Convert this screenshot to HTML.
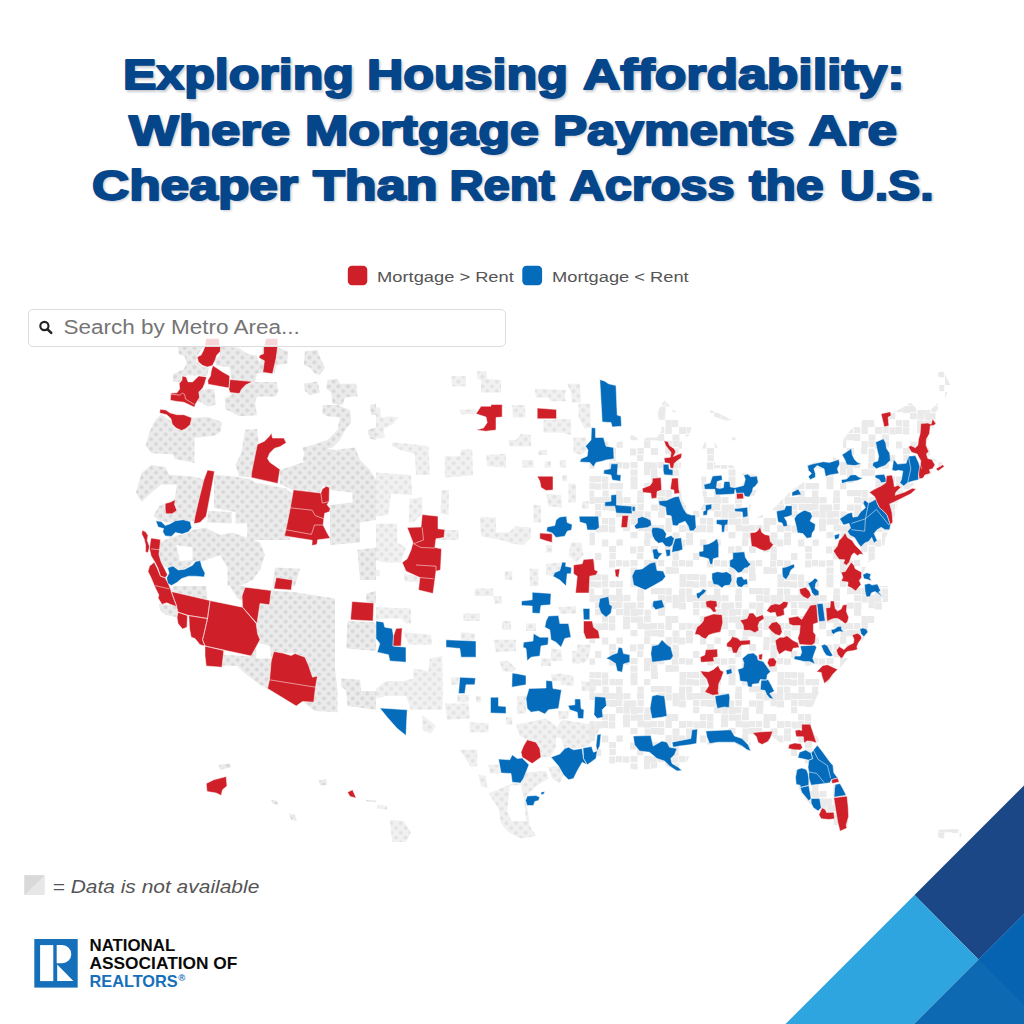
<!DOCTYPE html>
<html lang="en">
<head>
<meta charset="utf-8">
<title>Exploring Housing Affordability</title>
<style>
html,body{margin:0;padding:0;background:#fff;}
body{width:1024px;height:1024px;position:relative;overflow:hidden;font-family:"Liberation Sans",sans-serif;}
.abs{position:absolute;white-space:nowrap;}
.title{position:absolute;left:0;top:0;width:1024px;height:240px;}
.title text{font-family:"Liberation Sans",sans-serif;font-weight:bold;font-size:43.0px;fill:#05468b;stroke:#05468b;stroke-width:2.0px;stroke-linejoin:round;}
.title .sh text{fill:#c9ccd2;stroke:#c9ccd2;}
#map{position:absolute;left:0;top:0;width:1024px;height:1024px;}
.search{position:absolute;left:27.7px;top:309.2px;width:476.5px;height:35.8px;border:1px solid #dcdcdc;border-radius:5px;background:rgba(255,255,255,0.82);box-sizing:content-box;}
.search span{position:absolute;left:34px;top:7px;font-size:19px;color:#555;white-space:nowrap;}
.legend{position:absolute;top:265px;font-size:14.5px;color:#444;white-space:nowrap;}
.sw{position:absolute;width:19px;height:19px;border-radius:4px;}
.na{position:absolute;left:52px;top:876px;font-size:16.5px;font-style:italic;color:#555;white-space:nowrap;}
.ov text{font-family:"Liberation Sans",sans-serif;}
.logo text{font-family:"Liberation Sans",sans-serif;font-weight:bold;font-size:15px;}
</style>
</head>
<body>
<svg id="map" viewBox="0 0 1024 1024">
<defs>
<pattern id="nd" width="9.6" height="9.6" patternUnits="userSpaceOnUse">
<rect width="9.6" height="9.6" fill="#ebebeb"/>
<circle cx="2.4" cy="2.4" r="2" fill="#d7d7d7"/>
<circle cx="7.2" cy="7.2" r="2" fill="#d7d7d7"/>
</pattern>
<pattern id="sp" width="98" height="98" patternUnits="userSpaceOnUse"><path d="M0,0.5h6.3v6.3h-6.3ZM14.5,0.5h6.3v6.3h-6.3ZM28,0.5h6.3v7h-6.3ZM49.5,0.5h6.3v6.3h-6.3ZM63,0h7v6.3h-7ZM70,0h7v6.3h-7ZM77.5,0h6.3v7h-6.3ZM91,0.5h6.3v7h-6.3ZM0.5,7h6.3v7h-6.3ZM7,7h7v6.3h-7ZM14,7h7v6.3h-7ZM21,7h7v6.3h-7ZM28,7.5h7v6.3h-7ZM35.5,7h7v6.3h-7ZM49,7h7v6.3h-7ZM70,7h7v6.3h-7ZM77.5,7.5h6.3v7h-6.3ZM84.5,7h6.3v7h-6.3ZM91,7h6.3v7h-6.3ZM7,14h6.3v6.3h-6.3ZM14.5,14h6.3v6.3h-6.3ZM21,14h7v7h-7ZM28,14h6.3v6.3h-6.3ZM35.5,14.5h7v7h-7ZM42,14.5h6.3v6.3h-6.3ZM49.5,14h6.3v6.3h-6.3ZM63,14.5h7v6.3h-7ZM70.5,14.5h7v7h-7ZM84.5,14h6.3v6.3h-6.3ZM91,14.5h7v7h-7ZM7,21h6.3v6.3h-6.3ZM28,21h7v6.3h-7ZM35.5,21.5h6.3v6.3h-6.3ZM42.5,21h7v7h-7ZM49,21h6.3v6.3h-6.3ZM56.5,21.5h6.3v6.3h-6.3ZM70,21.5h7v6.3h-7ZM14,28h6.3v6.3h-6.3ZM21,28h6.3v7h-6.3ZM35,28.5h7v7h-7ZM42.5,28.5h7v6.3h-7ZM49,28.5h6.3v6.3h-6.3ZM56,28h7v6.3h-7ZM77.5,28h6.3v7h-6.3ZM84,28h6.3v7h-6.3ZM0.5,35h6.3v6.3h-6.3ZM7.5,35.5h6.3v7h-6.3ZM14,35h6.3v7h-6.3ZM21,35.5h6.3v7h-6.3ZM35,35h7v6.3h-7ZM49.5,35h7v6.3h-7ZM56,35.5h7v6.3h-7ZM63,35h6.3v6.3h-6.3ZM70,35h6.3v6.3h-6.3ZM77.5,35h6.3v7h-6.3ZM91,35h7v7h-7ZM0,42.5h7v6.3h-7ZM42.5,42h7v6.3h-7ZM56.5,42.5h6.3v6.3h-6.3ZM63,42h7v6.3h-7ZM70,42h6.3v7h-6.3ZM84.5,42.5h7v6.3h-7ZM0,49h7v6.3h-7ZM14,49.5h6.3v7h-6.3ZM28.5,49.5h6.3v6.3h-6.3ZM56,49h6.3v7h-6.3ZM77.5,49h6.3v7h-6.3ZM84.5,49h6.3v6.3h-6.3ZM91,49.5h6.3v7h-6.3ZM21,56h7v6.3h-7ZM42,56.5h6.3v7h-6.3ZM49.5,56h6.3v6.3h-6.3ZM63,56h7v7h-7ZM77,56h6.3v6.3h-6.3ZM84.5,56.5h6.3v6.3h-6.3ZM7,63h6.3v7h-6.3ZM21.5,63h6.3v6.3h-6.3ZM49,63h6.3v6.3h-6.3ZM84.5,63h6.3v7h-6.3ZM0,70.5h7v6.3h-7ZM21,70.5h6.3v7h-6.3ZM28,70h6.3v6.3h-6.3ZM35,70.5h6.3v6.3h-6.3ZM42.5,70h7v6.3h-7ZM56,70h7v7h-7ZM63,70.5h6.3v6.3h-6.3ZM70,70h6.3v6.3h-6.3ZM84,70.5h6.3v6.3h-6.3ZM91,70h6.3v6.3h-6.3ZM42.5,77.5h7v6.3h-7ZM56,77h6.3v6.3h-6.3ZM63,77h6.3v7h-6.3ZM77.5,77h7v7h-7ZM84,77.5h7v6.3h-7ZM0.5,84h6.3v6.3h-6.3ZM7,84h6.3v6.3h-6.3ZM14,84.5h6.3v6.3h-6.3ZM42.5,84.5h7v7h-7ZM63,84h7v7h-7ZM91.5,84h7v7h-7ZM0,91h7v6.3h-7ZM7,91.5h6.3v6.3h-6.3ZM14,91h6.3v6.3h-6.3ZM21.5,91h6.3v6.3h-6.3ZM28,91h7v6.3h-7ZM42.5,91h7v6.3h-7ZM56,91h6.3v6.3h-6.3ZM91.5,91h6.3v6.3h-6.3Z" fill="#eaeaea"/></pattern>
</defs>
<path d="M305,351.2 317.5,350 320,357.5 325,367.5 320,375 315,373.8 310,367.5 303.8,365ZM303.8,383.8 317.5,381.2 320,392.5 310,395 305,391.2ZM327.5,380 337.5,378.8 340,383.8 356.2,383.8 357.5,396.2 345,397.5 342.5,405 332.5,403.8 331.2,392.5 326.2,388.8ZM322.5,405 337.5,405 350,410 351.2,422.5 345,430 340,440 332.5,447.5 320,450 312.5,455 305,457.5 302.5,447.5 312.5,445 327.5,440 337.5,430 340,417.5 327.5,416.2 322.5,413.8ZM367.5,430 376,427.5 376,440 370,438.8ZM370,405 376,403.8 376,415 371.2,415ZM220,535 232.5,532.5 260,542.5 265,555 260,570 252.5,580 240,586 227.5,586 227.5,567.5 220,555ZM275,567.5 300,568.8 295,586 272.5,586ZM280,470 295,465 310,460 320,462.5 327.5,470 322.5,486.2 320,492.5 292.5,490 280,483.8ZM305,450 320,447.5 335,450 355,447.5 360,460 370,470 376,480 376,520 360,522.5 360,542.5 330,545 330,505 352.5,502.5 352.5,492.5 330,490 328.8,486.2 323.8,486.2 322.5,477.5 310,470 302.5,460ZM357.5,550 376,547.5 376,580 360,580ZM160,542.5 170,537.5 185,533.8 192.5,530 205,527.5 220,535 220,555 202.5,561.2 193.8,561.2 187.5,567.5 180,570 173.8,566.2 167.5,567.5 161.2,565 157.5,555ZM158.8,604 176.2,605.5 178,612.2 177,617.2 165,614.8 160,609.8ZM173.8,586 206.2,586 207.5,599.8 171.2,591.5ZM230,586 245,586 242.5,601 237.5,598.5ZM271.2,590.5 295,592.2 335,598.5 335,668.5 337.5,691 337.5,712.2 315,711 302.5,701.5 313.8,702.2 317.5,676 312.5,677.2 305,657.2 295,653.5 282.5,653 273.8,651.5 270,644.8 260,639.8 257.5,633.5 256.2,623.5 257,623.5 260,603.5 269.5,604.8ZM223.8,654.8 251.2,656.5 260,639.8 270,644.8 273.8,651.5 271.2,661 269.5,679.8 267.5,688.5 260,684.8 245,673.5 237.5,666 223,665.5ZM347.5,621 373.8,622.2 376,623.5 376,651 346.2,648.5ZM341.2,678.5 360,679.8 361.2,691 376,691 376,709.8 347.5,706 346.2,691 341.2,686ZM366.2,593.5 376,591 376,603 373.8,603 366.2,601.5ZM218.8,764.8 230,763.5 231.2,767.2 220,769.8ZM318.8,780.5 326.2,779 327,784.8 320,785.5ZM271.2,799.8 277.5,801 278,804.8 272.5,803.5ZM288.8,813.5 295,814.8 297,821 291.2,819.8ZM366.2,799.8 376,800.5 376,802.2 366.2,801.5ZM177.9,346.8 203.2,346.8 197.4,355.6 196.4,361.5 203.2,367.3 209.1,367.3 207.1,376.1 188.6,375.2 182.7,376.1 179.8,382 173,382 173,374.2 183.7,369.3 186.6,363.4 184.7,356.6 178.8,353.7ZM220.8,346.8 238.4,347.8 247.2,353.7 257,355.6 259.9,363.4 262.8,347.8 278.4,347.8 288.2,351.7 287.2,363.4 276.5,365.4 274.5,373.2 262.8,373.2 257,373.2 255,382 276.5,382 278.4,390.8 275.5,396.6 266.7,396.6 257,396.6 255,402.5 257,415.2 239.4,416.2 225.7,409.3 224.7,398.6 231.6,394.7 229.6,391.2 231.6,379.1 229.6,367.3 215.9,365.4 215,359.5 219.8,355.6ZM198.4,389.8 214,388.8 215.9,404.5 208.1,406.4 197.4,400.5ZM155.4,420.1 161.2,414.2 172,422 177.9,429.8 184.7,428.9 190.5,418.1 208.1,417.1 221.8,422 220.8,431.8 214,435.7 194.5,437.7 194.5,463 174.9,459.1 173,454.3 151.5,453.3 145.6,445.5 149.5,431.8ZM245.2,429.8 257,428.9 258.9,445.5 255,465 251.1,476.7 239.4,476.7 235.5,465 241.3,453.3ZM141.7,472.8 151.5,465 165.2,467 169.1,474.8 194.5,476.7 204.2,479.6 203.2,488.4 198.4,509.9 194.5,521.6 186.6,520.7 180.8,519.7 169.1,522.6 159.3,520.7 153.4,515.8 159.3,506 169.1,502.1 174.9,498.2 176.9,484.5 161.2,484.5 149.5,494.3 141.7,502.1 135.9,492.3ZM214,474.8 235.5,476.7 251.1,479.6 255,482.6 286.2,488.4 292.1,494.3 290.2,540 247.2,540 247.2,523.6 235.5,523.6 235.5,511.9 214,508ZM208.1,510.9 231.6,511.9 231.6,523.6 207.1,522.6Z" fill="url(#nd)"/>
<path d="M451,376.2 466,376.2 466,386.2 452.2,386.2ZM477.2,371.2 486,371.2 487.2,378.8 501,380 501,392.5 481,392.5 481,380 477.2,378.8ZM534.8,388.8 566,390 564.8,397.5 566,401.2 551,401.2 548.5,397.5 536,397.5ZM567.2,383.8 579.8,383.8 581,402.5 572.2,402.5 571,392.5ZM578.5,403.8 589.8,403.8 591,427.5 584.8,428.8 578.5,417.5ZM512.2,405 524.8,405 525.5,417.5 513,417.5ZM459.8,409.5 476,409.5 476,413.8 461,414.5ZM543.5,420 571,418.8 571,435 561,432.5 543.5,432.5ZM508.5,440 516,440 521,433.8 531,435 531,446.2 509.8,446.2ZM573.5,437.5 586,437.5 587.2,450 581,455 573.5,452.5ZM538.5,450 547.2,450 547.2,455 538.5,455ZM522.2,460 533.5,460 533.5,467.5 522.2,467.5ZM544.8,461.2 551,461.2 551,467.5 544.8,467.5ZM559.8,460 566,460 566,467.5 559.8,467.5ZM486,455 506,453.8 506,467.5 487.2,466.2ZM444.8,456.2 459.8,456.2 461,449.5 472.2,449.5 473,475 463.5,476.2 444.8,477.5ZM392.2,442.5 408.5,443.8 428.5,446.2 429.8,475 416,475 414.8,453.8 401,450 392.2,446.2ZM376,407.5 379.8,407.5 381,417.5 391,416.2 398.5,417.5 393.5,423.8 383.5,428.8 384.8,437.5 376,438.8ZM376,472.5 411,475 412.2,495 391,493.8 388.5,515 376,516.2ZM409.8,498.8 422.2,497.5 422.2,513.8 413.5,522.5 408.5,522.5ZM441.5,490 449,490 448.5,515 440.5,513.8ZM376,523.8 397.2,523.8 397.2,542.5 406,547.5 401,562.5 383.5,562.5 376,560ZM437.2,530 458.5,530 458.5,540 437.2,540ZM479.8,517 496,517.5 496,532.5 508.5,532.5 516,526.2 531,527.5 531,537.5 523.5,545 512.2,543.8 501,540 481,536.2ZM533.5,505 541,505 541,522.5 533.5,522.5ZM546,493.8 561,495 562.2,507.5 548.5,506.2ZM568.5,483.8 576,483.8 576,502.5 568.5,502.5ZM562.2,475 567.2,475 567.2,481.2 562.2,481.2ZM582.2,501.2 588.5,501.2 588.5,508.8 582.2,508.8ZM571,542.5 581,542.5 583.5,555 576,562.5 568.5,555ZM546,545 552.2,545 552.2,552.5 546,552.5ZM546,563.8 561,562.5 559.8,570 553.5,576.2 546,575ZM504.8,571.2 512.2,571.2 512.2,580 504.8,580ZM529.8,568.8 538.5,568.8 538.5,586 529.8,586ZM403.5,573.8 418.5,576.2 418.5,582.5 404.8,581.2ZM376,570 379.8,570 379.8,576.2 376,576.2ZM474.8,588.5 493.5,588.5 493.5,596 474.8,596ZM493.5,596 501,596 502.2,603.5 494.8,603.5ZM463.5,613.5 479.8,613.5 479.8,621 463.5,621ZM376,607.2 411,608.5 411,623.5 406,623.5 401,618.5 386,618.5 376,619.8ZM403.5,632.2 431,634.8 432.2,644.8 408.5,644.8ZM502.2,621 511,621 511,629.8 502.2,629.8ZM526,623.5 536,623.5 536,631 526,631ZM461,632.2 474.8,633.5 474.8,639.8 461,639.8ZM493.5,639.8 516,639.8 516,651 496,652.2ZM413.5,668.5 428.5,671 429.8,658.5 442.2,656 443,693.5 442.2,709.8 411,709.8 406,696 386,696 376,698.5 376,688.5 386,681 403.5,681 413.5,678.5ZM499.8,661 508.5,661 516,668.5 512.2,672.2 502.2,671ZM451,677.2 458.5,677.2 458.5,684.8 451,684.8ZM457.2,694.8 468.5,694.8 468.5,702.2 457.2,702.2ZM476,696 481,696 481,702.2 476,702.2ZM444.8,703.5 468.5,703.5 469.8,718.5 447.2,719.8ZM422.2,714.8 436,726 431,733.5 422.2,729.8ZM469.8,722.2 488.5,723.5 488.5,732.2 469.8,732.2ZM506,717.2 512.2,717.2 512.2,724.8 506,724.8ZM517.2,696 526,696 526,713.5 517.2,713.5ZM559.8,673.5 573.5,676 573.5,686 561,684.8ZM577.2,644.8 591,644.8 588.5,658.5 583.5,663.5 576,661ZM551,648.5 561,649.8 562.2,661 551,661ZM541,658.5 551,658.5 551,666 541,666ZM551,674.8 561,673.5 562.2,681 552.2,681ZM581,681 596,682.2 596,691 582.2,691ZM558.5,711 568.5,711 568.5,718.5 558.5,719.8ZM562.2,719.8 601,726 596,736 588.5,746 573.5,748.5 564.8,748.5 561,738.5 551,736ZM516,724.8 546,718.5 556,726 556,746 551,757.2 541,757.2 539.8,748.5 536,742.2 527.2,739.8 519.8,736ZM459.8,749.8 477.2,749.8 477.2,766 471,767.2ZM488.5,764.8 498.5,764.8 499.8,773.5 489.8,773.5ZM478.5,774.8 486,776 487.2,788.5 481,786ZM488.5,793.5 512.2,783.5 520.5,783 526,772.2 546,771 548.5,778.5 536,786 526,796 525.5,800.5 527.2,805.5 529.8,826 536,836 521,838.5 508.5,832.2 501,823.5 498.5,808.5ZM548.5,767.2 558.5,766 563.5,774.8 559.8,783.5 552.2,778.5ZM558.5,607.2 576,606 576,613.5 559.8,614ZM572.2,651 579.8,651 579.8,663.5 572.2,663.5ZM389.8,819.8 403.5,821 411,832.2 406,842 392.2,842 391,831ZM377.2,804.8 387.2,806 387.2,809.8 377.2,808.5Z" fill="url(#nd)" fill-opacity="0.72"/>
<path d="M589.5,450 602,440 617,442.5 632,435 642,440 647,437.5 657,437.5 662,430 657,412.5 664.5,400 673.2,410 682,415 692,425 689.5,435 682,440 682,455 679.5,480 682,500 689.5,510 699.5,510 704.5,502.5 702,490 700.8,470 699.5,455 704.5,442.5 714.5,442.5 719.5,450 714.5,465 732,465 739.5,472.5 757,475 759.5,485 752,500 749.5,510 752,520 772,510 792,490 807,480 807,465 822,460 832,457.5 832,586 589.5,586ZM709.5,410 717,412.5 724.5,416.2 732,420 727,421.2 717,417.5 710.8,415ZM732,437.5 738.2,437.5 738.2,442.5 732,442.5ZM832,456.2 839.2,460 843,450 843,440 850.5,430 863,420 880.5,415 893,412.5 903,407.5 910.5,402.5 918,410 930.5,410 940.5,400 938,372.5 943,371.2 950.5,385 943,402.5 935.5,412.5 935.5,423.8 928,435 930.5,457.5 943,462.5 938,470 918,480 908,490 898,501.2 893,522.5 885.5,537.5 883,555 868,562.5 863,573.8 861.8,586 832,586ZM589.5,586 888,586 888,601 879.5,613.5 867,633.5 857,648.5 839.5,668.5 829.5,681 817,696 810.8,711 812,726 822,746 832,766 847,796 848.2,826 839.5,832.2 829.5,821 818.2,811 807,801 797,786 794.5,761 787,748.5 772,736 752,733.5 749.5,751 732,742.2 707,744.8 694.5,746 682,771 664.5,766 642,771 617,766 594.5,758.5 589.5,736ZM933,829.8 961.8,829 961,837.2 943,838.5 933.5,836Z" fill="url(#sp)"/>
<path d="M176.2,545 192.5,547.5 192.5,560 180,561.2ZM256.2,642.2 270,646 271.2,658.5 256.2,658.5ZM509.8,786 521,784.8 524,798.5 526,821 511,821 507.2,811Z" fill="#fff"/>
<path d="M599.8,379.5 604.8,381.2 608.5,383.8 616,385.5 617.2,415 621,416.2 621.5,426.2 612.2,427 611,422.5 602.2,422ZM591.5,427.5 595.5,428 595.5,437.5 603.5,437.5 606,446.2 613.5,447.5 614,458.8 606,460 602.2,461.2 596,462.5 593.5,467 589.8,462.5 579.8,462 581,458.8 587.2,456.2 588,450 585.5,446.2 591,440ZM611,463.8 618,463.8 617.2,474.5 621,475 620.5,481.2 612.2,480 611,475 603.5,473.8 604,470 610.5,468.8ZM611,495 616.5,494.5 616.5,505 632,506.2 632,513.8 616,513 614.8,506.2 604.8,506.2 604.8,502 611,501.2ZM559.8,517 566.5,516.2 567.2,522.5 572.2,524.5 571.5,530 567.2,531.2 564.8,536.2 556,537.5 552.2,533 546.5,531.2 547.2,527 554.8,525.5 556,520ZM579,516.2 598.5,516.2 599.2,527.5 596,530 587.2,530 586,523.8 579.8,522ZM562.2,562 566,562.5 565.5,566.2 571.5,567.5 571,573.8 567.2,573.8 566,586 559.8,580 553,576.2 554.8,572.5 559.8,570.5ZM376,621 383.5,622.2 384.8,627.2 392.2,628.5 393.5,636 393,646 406,647.2 406,662.2 389.8,661 388.5,654.8 377.2,652.2 379.8,643.5 376,638.5ZM446,639.8 476,641 476,657.2 461,657.2 459.8,648.5 446,647.2ZM459.8,677.2 475.5,678 474.8,684.8 466,684.8 464.8,693.5 458.5,693.5ZM490.5,697.2 498.5,697.2 498.5,706 506,706.5 506,713.5 490.5,713ZM379.8,708 407.2,709.8 406,735.5 397.2,728.5 387.2,717.2ZM532.2,592.2 551,593.5 550.5,604.8 541,605.5 539.8,613.5 532.2,613 532.2,606 521.5,605.5 521.5,601 532.2,599.8ZM548.5,616 558.5,615.5 559.8,623.5 568.5,623.5 571,637.2 564.8,638.5 561,647.2 556,642.2 551,639.8 549.8,629.8 544.8,627.2 546,621ZM533.5,633.5 539.8,637.2 548.5,637.2 548,644.8 541,646 539.8,656 531,657.2 527.2,661 526,648.5 523,647.2 523.5,642.2 533,641ZM512.2,673 518.5,674 526,675.5 526,684.8 518.5,686 511.8,687.2ZM529,688.5 546,688 546,680.5 552.2,681 553,688.5 561.5,689.8 558.5,708.5 548.5,709.8 544.8,714 538.5,711 531,712.2 527.2,708.5 526,698.5ZM574.8,699 580.5,699 581,708.5 584,709.8 583.5,718.5 578,718.5 577.2,712.2 569.8,709.8 568,705.5 574.8,704.8ZM594.8,696.5 605.5,697.2 606.5,705.5 602.2,709.8 603,717.2 597.2,718.5 594,714.8ZM599.8,598.5 608.5,596.5 609.8,604.8 612.2,606 611,613 606,617.2 601,613 598.5,606ZM583,608.5 589.8,608.5 589.8,619.8 583.5,619.8ZM612.2,654.8 617.2,653 618.5,647.2 622.2,648 623.5,653.5 629.8,654.8 629.8,662.2 623.5,664 622.2,672.2 617.2,671 615.5,663.5 609.8,659.8 606,658.5ZM498.5,759 509.8,759.8 512.2,754.8 517.2,758.5 522.2,758 529,764.8 526,772.2 523.5,778.5 520.5,783 512.2,782.2 511,773.5 501,773ZM551,757.2 559.8,754 564.8,748.5 568.5,747.2 573.5,749.8 582.2,748.5 583.5,758.5 587.2,764.8 582.2,762.2 577.2,771 573.5,778.5 568.5,779.8 563.5,774.8 558.5,766ZM583,748 591.5,746.5 593.5,752.2 597.2,751 596,758.5 589.8,763 587.2,764.8 583.5,758.5ZM597.2,734.8 601,734 599.8,746 597.2,751 596,746ZM527.2,796 536,795.5 539.8,797.2 538.5,800.5 534.8,801.5 533.5,805.5 527.2,805.5 525.5,800.5ZM541,792.2 544.8,791.5 544,794 541,794.8ZM653.2,601 662,599.8 664.5,607.2 655.8,609.8 652.5,606ZM652,646 658.2,644.8 662,639.8 667,644.8 670.8,647.2 673.2,656 670.8,659.8 662,661 652,662.2 650.8,653.5ZM652,696 657,694.8 664.5,696 667,716 662,717.2 652,718.5 650,708.5ZM633.2,736 650.8,735.5 653.2,746 662,741 667,742.2 669.5,747.2 677,748.5 674.5,754.8 670.8,758.5 672,763.5 678.2,767.2 682,770.5 677,771 669.5,766 664.5,761 657,758.5 649.5,752.2 639.5,751 634.5,744.8ZM672,742.2 690.8,738.5 692,729.8 697.5,729 696.5,743.5 689.5,744.8 679.5,746 673.2,747.2ZM705.8,731 730.8,729.8 734.5,736 742,738.5 748.2,744.8 750.8,751 747,749.8 742,746 734.5,742.2 718.2,742.2 709.5,743.5 707,737.2ZM155.8,520.8 161.2,521.6 165.2,525.5 169.8,523.9 175.3,520.8 183.1,519.7 190.2,521.6 191.7,527.8 188.6,531.7 182.3,534.1 175.3,532.5 171.4,536.4 165.2,535.9 162.8,531.7 163.6,528.6 158.1,527ZM167.5,567.7 173,566.1 178.4,570 184.7,569.2 192.5,565.3 195.6,561.4 200.3,560.6 201.9,566.9 205,573.1 204.2,577 195.6,576.2 188.6,576.2 181.6,578.6 176.9,582.5 171.4,585.6 167.5,583.3 166.7,577.8 169.1,573.1ZM663.2,464.3 668.7,464.3 669.2,469 672.9,469.8 672.9,475.2 664,474.8 663.2,470.5ZM658.6,501 667.2,500.2 668.7,499.4 674.2,497.1 678.9,496.3 680.4,501 683.6,508.8 686.7,513.5 691.4,515.1 695.3,515.1 696.1,527.6 693.7,530.7 689.8,531 688.2,526 685.1,521.3 678.9,523.7 677.3,526 672.6,525.2 671.8,519.8 671.1,515.8 666.4,515.1 665.6,507.2 659.3,504.9ZM632,506.5 635.1,506.5 635.1,511.2 632,511.2ZM637.5,518.2 642.2,516.6 646.8,518.2 650.8,520.5 651.5,525.2 647.6,527.6 641.4,528.3 635.9,529.1 634.3,526 637.5,522.9ZM652.3,527.6 657.8,527.6 663.2,529.1 666.4,533.8 665.6,537.7 671.1,535.4 674.2,538.5 672.6,544.8 669.5,547.1 665.6,546.3 662.5,542.4 658.6,543.2 654.7,540.1 652.3,535.4 651.5,530.7ZM675,538.5 681.2,537.7 682.8,549.4 678.9,551 674.2,551.8 671.8,552.6 672.6,546.3ZM665.6,549.4 670.3,549.4 670.3,555.7 666.4,556.5ZM652.3,549.4 657,548.7 658.6,552.6 662.5,553.3 659.3,556.5 657.8,559.6 653.9,558.8ZM632,576 633.6,585.1 645.3,590.1 652.9,586 662.5,580.5 665.6,576.6 663.2,571 657,570.5 655.4,561.9 650,563.3 642,569 635,569.8ZM703.9,484.6 710.1,483 712.5,476 721.8,475.2 722.3,479.9 717.2,481.5 716.4,487.7 719.5,488.5 723.4,487.7 724.2,481.5 729.7,481.5 730.4,486.9 735.1,487.7 743.7,485.4 745.3,479.1 743.7,475.2 747.6,474.1 750.8,476.8 757,476 758.2,482.2 755.4,486.2 753.1,487.7 752.3,491.6 749.2,497.1 744.5,496.3 743.7,493.2 736.4,493.5 735.1,489.3 734.3,494 721.1,494.8 715.6,494.8 714.8,489.3 704.7,489.3ZM705.4,504.9 711.7,504.1 711.7,508.8 707.8,510.4 707,515.1 703.1,515.4 703.1,511.2 705.4,510.4ZM734.3,508.8 747.6,507.2 747.9,516.6 742.9,517.4 742.2,511.9 735.1,511.6ZM716.4,519.8 728.1,519.4 727.6,524.4 725,525.2 724.2,532.2 721.8,532.2 721.4,525.2 716.4,524.1ZM703.1,544.8 708.6,544 713.2,541.6 717.2,538.5 718.7,544.8 718.7,557.2 713.2,558.8 712.5,564.3 710.1,564.3 708.6,558.8 703.1,557.2 699.2,556.5 698.9,551.8 703.1,551ZM732.8,552.6 744.5,551.8 745.3,557.2 748.4,561.9 750.8,564.3 747.6,567.4 744.5,568.2 741.4,572.1 738.2,572.9 734.3,569 729.7,566.6 729.7,560.4 732.8,558.8ZM776.5,511.2 784.3,509.6 785.9,505.7 792,505.7 792,515.1 788.2,516.6 784.3,517.4 786.7,521.3 787.5,526 783.6,526.8 782,522.9 778.1,522.1 777.3,518.2ZM807.6,465.6 812.3,464.1 823.2,461.7 829.5,462.5 838.9,459.4 839.7,464.1 837.3,468.8 838.9,473.4 834.2,474.2 829.5,475 825.6,476.6 824,468.8 817,465.6 813.9,468.8 815.4,473.4 815.4,477.3 810,479.7 808.4,476.6 811.5,473.4 808.4,470.3ZM842,454.7 845.9,452.3 851.4,448.4 852.2,454.7 854.5,459.4 857.6,462.5 861.5,464.1 854.5,465.6 846.7,464.8 845.1,460.2ZM841.2,479.7 846.7,478.9 850.6,475 855.3,474.7 859.2,477.3 863.1,478.1 857.6,480.5 846.7,482 842,483.6ZM875.6,442.2 883.4,438.8 885.8,443 886.5,448.4 889.7,453.1 890.4,460.2 885,465.6 880.3,467.2 876.4,468.8 872.5,465.6 873.2,462.5 877.9,460.9 878.7,456.2 877.2,450ZM893.6,459.4 895.9,461.7 897.5,464.1 906.1,463.3 908.4,456.2 915.4,455.5 918.6,462.5 920.1,467.2 918.6,474.2 918.6,479.7 912.3,481.2 907.6,482.8 903.7,485.9 899.8,482.8 901.4,479.7 902.9,471.1 898.2,470.3 895.9,471.1 892,470.3ZM875.6,475 884.2,474.2 885.8,478.1 886.5,482 881.1,482.8 879.5,479.7 874.8,477.3ZM792,492.2 798.2,489.1 801.4,494.5 792,496.1ZM796.7,514.8 801.4,511.7 804.5,510.2 810.8,512.5 812.3,516.4 810,521.1 815.4,524.2 814.7,529.7 812.3,532.8 811.5,537.5 806.8,538.3 802.9,533.6 797.5,532.8 795.9,525 794.3,518.8ZM839.7,518.8 848.2,513.3 852.2,512.5 852.9,517.2 857.6,516.4 860.8,511.7 865.4,507.8 863.1,503.1 864.7,500 868.6,503.1 871.7,501.6 877.2,498.4 877.2,503.1 879.5,507.8 884.2,511.7 887.3,515.6 890.4,525 889.7,529.7 885,529.7 881.1,527.3 877.2,529.7 874,533.6 877.2,540.6 874,543 871.7,537.5 868.6,541.4 864.7,543 860.8,546.9 858.4,543.8 854.5,537.5 849.8,535.2 847.5,531.2 850.6,528.1 849,523.4 843.6,525ZM834.2,535.2 839.7,533.6 838.9,538.3 835,539.8ZM711.9,573.3 717.3,571.7 722.8,572.5 726.7,571.7 731.4,574.8 731.9,580.3 729.8,585 724.4,585.8 722,588.1 718.1,585 713.4,584.2 711.9,578.8ZM736.9,577.2 741.6,576.4 743.9,579.5 747,578.8 747.8,584.2 743.9,585 741.6,587.3 737.7,586.6 736.1,581.9ZM696.2,593.6 700.2,592 703.3,588.9 706.4,590.5 704.1,593.6 700.9,595.9 698.6,599.1 697,597.5ZM782.2,567.8 786.1,567 790,565.5 793.9,563.9 794.7,567 790.8,570.2 789.2,574.8 786.1,579.5 783,577.2 782.2,573.3ZM808,583.4 811.9,581.1 815,578 818.1,580.3 815.8,583.4 815,588.1 818.9,591.2 818.9,595.2 815,595.9 811.9,592.8 810.3,588.1ZM816.9,603.8 822.8,603.4 825.2,620.9 818.9,621.7ZM800.2,645.9 815,645.2 816.6,647.5 814.2,653.8 812.7,658.4 815,663.9 809.5,661.6 804.1,661.6 797.8,660 793.9,659.2 794.7,656.1 800.2,656.1 801.7,652.2ZM742.3,658.4 747.8,653.8 753.3,653 757.2,656.1 758,660 763.4,661.6 766.6,666.2 770.5,671.7 767.3,674.8 766.6,680.3 760.3,679.5 758.8,683.4 752.5,684.2 751.7,687.3 747.8,686.6 747,681.9 740,681.1 739.2,674.8 737.7,669.4 743.1,667.8 743.9,663.1ZM761.1,680.3 768.1,679.5 771.2,685 774.4,691.2 769.7,693.6 773.6,699.1 769.7,698.3 766.6,694.4 765,690.5 760.3,689.7ZM725.9,670.2 731.4,668.6 732.2,673.3 726.7,674.8ZM715,695.9 729.1,693.6 729.8,697.5 729.1,707.7 724.4,706.9 717.3,708.4 715.8,702.2ZM799.4,752.3 805.6,750 811.1,753.1 812.7,758.6 808.8,760.2 804.1,759.1 797.8,757.8ZM813.4,750 817.3,745.3 821.2,750 825.2,755.5 829.1,760.9 833,765.6 833.8,772.7 837.7,778.1 831.4,779.7 829.8,782.8 824.4,783.6 811.1,785.2 808.8,778.1 808.8,771.9 808,767.2 808.8,760.2 812.7,758.6 811.1,753.1ZM797,769.5 801.7,768 806.4,769.5 808,773.4 808.8,778.1 808.8,785.2 800.2,787.5 800.2,785.2 796.2,784.4 795.5,777.3ZM800.2,787.5 808.8,785.6 810.3,793.8 811.1,798.4 808.8,800.8 805.6,796.9 801.7,792.2ZM811.1,798.4 819.7,798.4 821.2,807.8 818.1,810.9 813.4,807.8 811.1,803.1ZM835.3,784.4 840,783.6 843.1,789.1 846.2,795.3 834.1,797.2 834.5,789.1ZM862.8,574.6 866.9,572.8 871,574 869.8,577.5 871.6,581 866.9,579.3 863.9,578.7ZM864.5,584.5 869.2,583.4 872.1,585.1 877.4,583.9 880.4,590.4 878.6,592.1 883.9,598 878.6,593.9 875.1,591.6 871.6,592.7 869.8,596.8 866.3,596.8 865.1,591.6ZM831.1,629.6 834.6,629.1 837.6,626.7 841.1,626.1 841.7,629.6 844,632 839.3,631.4 835.8,632.6 833.5,634.3 831.7,632.6ZM859.8,629.1 862.8,627.9 866.3,629.1 868,632 863.9,636.7 861,633.8ZM821.2,645.5 824.7,644.3 827.6,646.1 830,650.7 832.9,655.4 830.5,656.6 826.4,655.4 823.5,651.3Z" fill="#056cbc" stroke="#fff" stroke-width="0.5" stroke-linejoin="round"/>
<path d="M207.5,470 214.5,471.2 213,480 208.8,502.5 206.2,516.2 200,522.5 193.8,523.8 195,516.2 200,495 203.8,480ZM276.2,577.5 292.5,580 291.2,590 273.8,588.8ZM481,406.2 491,406.2 491,404.5 502.2,404.5 502.2,417 496,417.5 496,430 486,431.2 476,430 483.5,428 487.2,422.5 486,417 476,413.8ZM537.2,408 556.5,409.5 556.5,418.8 537.2,418.8ZM537.2,476.2 553,476.2 553,490 546,490.5 541,487.5 539.8,481.2ZM422.2,514.5 438,516.2 438,528.8 444.8,529.5 444,537.5 436,538.8 434.8,547.5 441.5,548.8 440.5,570 436,571.2 433,593.5 418.5,590 419.8,577.5 406,571.2 402.2,562.5 407.2,558.8 411,550 413,542.5 407.2,527.5 421,527ZM539.8,533 552.2,533.8 552.2,542.5 547.2,541.2 539.8,538.8ZM573.5,565 582.2,563.8 583.5,559.5 593.5,558.8 594.8,570 598,571.2 596,575 589.8,576.2 589,593 575.5,593 577.2,576.2 573.5,573.8ZM622.2,515.5 628.5,515.5 627.2,527.5 621,527.5ZM614.8,569.5 619.8,568.8 618.5,577.5 615.5,576.2ZM171.2,591.5 210,600.5 207.5,618.5 188.8,615.5 178,612.2 176.2,604.8 173.8,598.5ZM178,612.2 187.5,615.5 187,627.2 182.5,629 178,623.5 177,617.2ZM188.8,615.5 207.5,618.5 203.8,634.8 202.5,639.8 205,646 200,644.8 195,638.5 191.2,637.2 189.5,628.5ZM212,601 242.5,607.2 256.2,623.5 257.5,633.5 260,639.8 251.2,656 205,646 202.5,639.8 203.8,634.8 207.5,618.5 210,600.5ZM205,646 223.8,650.5 222,667.2 206.2,666 205,656ZM245,587.2 271.2,590.5 269.5,604.8 260,603.5 257,623.5 242.5,607.2 242,596ZM273.8,651.5 282.5,653 291.2,655.5 295,653.5 305,657.2 308.8,666 312.5,677.2 317.5,676 315.5,687.2 313.8,702.2 302.5,701.5 296.2,706 267.5,688.5 269.5,679.8 271.2,661ZM352,601.5 373.8,603 373,621 350.5,619.8ZM206.2,783.5 213.8,779.8 226.2,776.5 227,786 222.5,789.8 221.2,795.5 216.2,793 207,791.5ZM347.5,792.2 352.5,789.8 356.2,798 350,796.5ZM396,628.5 402.2,628 401,646 393,646 393.5,636ZM583.5,621 592.2,621 593.5,627.2 598.5,631 599.8,638.5 586,639 583.5,632.2ZM527.2,739.8 536,742.2 539.8,748.5 541,757.2 532.2,763.5 522.2,757.2 521,752.2 523.5,746ZM142.2,530.2 145.6,531.7 148,535.6 147.2,540.3 149.5,546.6 148,552.8 145.6,552 145.6,545 144.1,538.8 141.7,534.1ZM151.1,538 160.5,539.5 159.7,548.1 158.9,554.4 161.2,562.2 165.2,570 167.5,574.7 165.2,577.8 160.5,576.2 158.1,568.4 155,562.2 151.1,555.9 149.5,548.9 150.3,541.9ZM149.5,566.1 154.2,562.2 157.3,568.4 160.5,576.2 165.2,577.8 169.1,585.6 170.9,590.3 175.3,602.8 176.9,606.7 170.6,604.4 166.7,602.8 162,604.4 158.1,598.1 158.9,595 155,587.2 151.1,577.8 148,571.6ZM165.2,503.6 170.6,502 175.3,499.7 174.5,504.4 176.9,510.6 172.2,513.8 165.9,513.8 165.2,509.1ZM664,440.8 667.9,441.6 669.5,445.5 674.2,448.7 675.8,451.8 673.4,456.5 678.9,454.1 682,453.3 681.2,458 676.5,461.2 674.2,463.5 673.4,468.2 670.3,468.2 669.5,463.5 664.8,462.7 664,458 670.3,457.2 671.1,452.6 668.7,449.4 665.6,445.5ZM652.3,478.3 660.9,477.6 661.7,490.1 657,491.6 656.7,497.9 651.5,498.7 650.8,493.2 642.9,492.4 642.2,488.5 646.1,486.9 650,485.4 652.3,482.2ZM671.8,478.3 678.1,477.9 678.9,489.3 679.7,493.2 674.2,494 673.9,490.1 670.3,489.3 671.1,483.8ZM736.4,493.5 743.2,493.2 743.7,498.7 736.7,499.1ZM760.1,526.8 761.7,532.2 764.8,534.6 769.5,535.4 770.3,541.6 773.4,544.8 769.5,549.4 764.8,551 760.1,549.4 755.4,547.1 751.5,546.3 750.8,540.1 750,533 755.4,532.2 757.8,530.7ZM881.1,413.8 890.4,411.7 891.2,415.6 888.1,417.2 888.9,425.8 884.2,426.9 882.6,420.3ZM920.9,423.4 927.9,423.1 931.1,424.2 932.6,418.8 935.8,423.4 934.2,425.3 930.3,425.8 929.5,433.6 926.4,439.1 926.1,445.3 928.7,451.6 926.4,453.9 927.9,458.6 931.8,459.4 935,464.8 932.6,468.8 929.5,469.5 930.3,473.4 924.8,475 923.2,478.1 919.3,478.9 918.6,474.2 919.3,468.8 920.1,465.6 920.9,460.9 917,453.9 911.5,452.3 908.4,446.9 910.8,445.6 915.4,447.7 917.8,445.3 918.6,439.1 920.1,433.6ZM935.8,468.8 942.8,464.8 944.3,466.4 938.1,471.1ZM886.5,475.8 892,475 893.6,481.2 894.3,486.7 898.2,485.2 900.6,487.5 895.9,492.2 895.1,495.3 904.5,492.2 912.3,488.3 916.2,489.1 910.8,493.8 901.4,498.4 893.6,502.3 889.7,503.9 892,512.5 892.8,521.9 890.4,525 887.3,515.6 884.2,511.7 879.5,507.8 877.2,503.1 874.8,496.9 869.3,492.2 874.8,489.1 881.1,485.9 885.8,482.8ZM845.1,532.8 847.5,537.5 852.2,540.6 855.3,545.3 860.8,550.8 863.4,554.5 859.8,554.1 857.5,555.8 854,552.8 851.7,555.2 849.3,562.3 846.4,565.2 843.4,563.4 844.7,559.8 839.3,559.4 836.4,555.8 833.4,551.1 837.3,546.1 838.9,540.6 842,537.5ZM705.6,601.4 710.3,600.3 716.6,600.9 717.3,606.1 715,607.7 716.6,611.6 713.4,612.3 710.3,608.4 706.4,606.9ZM704.1,617 708.8,615.5 713.4,613.9 722,614.7 722.8,622.5 722,625.6 720.5,631.9 713.4,633.4 708.8,635 705.6,638.9 701.7,637.3 699.4,635 694.7,634.2 697,627.2 700.9,624.1 703.3,620.9ZM726.7,643.6 730.6,639.7 732.2,636.6 737.7,638.1 740,640.5 750.2,640 750.2,644.4 741.6,645.2 739.2,647.5 736.9,653 733,653 731.4,647.5 726.7,646.7ZM705.6,649.8 717.3,649.1 717.8,656.9 713.4,657.7 714.2,661.6 700.9,662.3 700.2,656.9 704.8,655ZM700.2,670.9 708.8,671.7 713.4,669.4 718.1,665.5 720.5,670.2 723.6,671.7 721.2,678.8 718.9,683.4 718.1,691.2 718.9,694.4 712.7,695.2 704.8,692 708.8,685.8 706.4,678.8 703.3,675.6ZM740,620.2 747,618.6 749.4,613.1 753.3,613.1 756.4,617 762.7,614.7 764.2,618.6 759.5,621.7 758,625.6 758.8,630.3 754.8,632.7 750.2,630.3 743.9,630.3 743.1,624.8ZM766.6,610.8 770.5,605.3 775.2,603.8 779.8,604.5 783.8,601.4 788.4,602.2 786.9,606.9 783.8,609.2 784.5,614.7 780.6,616.2 776.7,617 775.2,612.3 770.5,613.1ZM768.1,627.2 772,622.5 776.7,621.7 780.6,625.6 782.2,631.9 779.8,635.8 775.2,634.2 771.2,631.1ZM775.2,640.5 779.8,637.3 783.8,637.3 786.9,635.8 793.1,640.5 797.8,642.8 799.4,647.5 793.1,648.3 791.6,652.2 785.3,650.6 779.1,654.5 776.7,649.1ZM788.4,617.8 797.8,616.2 801.7,619.4 805.6,613.1 810.3,605.3 816.6,604.5 818.1,622.5 813.4,624.1 813.4,631.9 815.8,635 815,642.8 811.9,645.2 799.4,644.4 797.8,638.1 799.4,633.4 800.2,625.6 793.1,625.6 789.2,624.1ZM799.4,588.9 805.6,587.3 809.5,591.2 811.1,595.2 808,599.1 803.3,596.7 800.2,593.6ZM822.8,665.5 827.5,664.7 837.7,669.4 833,674.1 829.1,679.5 824.4,683.4 822,676.4 821.2,672.5 816.6,671.7 818.9,669.4ZM758.8,654.5 762.7,653.8 761.9,660 758.8,659.2ZM768.9,658.4 773.6,657.7 776.7,661.6 775.2,666.2 769.7,667 767.3,663.1ZM752.5,732.8 758.8,732 772.8,731.2 770.5,737.5 768.1,741.4 761.9,744.5 758,742.2 756.4,736.7ZM801.7,724.2 810.3,724.2 812.7,731.2 815,738.3 816.6,743 811.9,741.4 807.2,740.9 804.1,743 803.3,736.7 796.2,736.7 795,730.5 799.1,729.7 801.7,730.5ZM789.2,744.5 794.7,743 800.9,743.8 802.5,747.7 800.2,750 793.9,749.7 788.1,748.4ZM831.4,779.7 837.7,778.1 839.2,782 832.2,783.6ZM833.8,797.7 847,796.1 848.1,806.2 848.6,816.4 846.2,825 847,828.1 840,831.2 837.7,821.9 835.6,809.4ZM822,807.8 825.2,809.4 826.7,812.5 833.8,812.2 834.5,818.8 829.1,819.5 821.2,818.8 818.9,814.8ZM293.4,489.8 320.8,493 322.3,489.1 326.2,486.2 329.4,487.5 329.1,501.6 327,504.7 330.2,508.6 329.4,511.7 324.7,513.3 323.9,518.8 323.1,525 327,532.8 330.2,538.3 317.7,539.8 316.9,544.5 311.9,545.6 312.2,540.3 284.4,535.9 287.2,523.4 290.3,507.8ZM205,346.2 220.6,346.2 220.3,351.4 216.7,355.3 215.2,360 212.5,365.5 207.3,367 202.7,365.5 198.4,361.9 197.2,356.9 201.1,355 203.4,350.6ZM212.8,365.5 217.5,368.6 222.2,371.7 229.7,375.9 229.2,388.1 208.1,384.2 207.8,380.3 210.5,375.9 211.2,370.9ZM230,379.5 252.7,381.6 245.6,385 241.7,388.9 239.4,393.6 230,392.5 228.8,388.9ZM182.3,375.9 186.2,376.9 188.1,381.9 192.5,381.9 198.8,375.9 206.6,376.9 204.7,383.4 202.7,388.1 198.8,392 199.5,397.5 195.6,403.8 194.4,407.2 183.9,402.2 176.9,401.4 170.3,400.3 170.9,393.1 176.9,392.8 179.7,388.9 179.2,383.4 181.9,380.3ZM160,409.2 165.9,410 169.8,412.8 176.9,414.7 183.9,414.7 191.7,417.8 190.2,424.8 185.5,428.8 181.6,430.6 176.1,428 172.2,424.1 170.9,418.6 166.7,414.7 159.7,413.1ZM263.6,346.2 277.7,346.2 276.1,358.4 272.5,373.8 262.8,372.2 264.4,360.8 258.9,357.7 259.7,355.3 263.6,353.8ZM271.4,432.7 272.5,438.1 283.9,438.1 286.2,442.8 280,446.7 274.5,448.3 269.8,453 267.5,458.4 269.8,462.3 280,469.4 277.7,483.4 251.1,477.5 251.9,470.9 257.3,444.4 264.4,441.2 269.8,435.8ZM851.1,562.3 854,565.2 855.2,568.7 861.6,572.2 861.6,577.5 859.3,580.4 861,584.5 858.1,588 855.7,591 851.6,588 847.5,586.3 848.1,582.2 841.1,581 842.9,577.5 841.1,572.2 845.2,571.6 848.1,567ZM825.9,608 830,607.4 830.5,600.9 834.1,600.9 835.2,608.6 837.6,610.9 841.1,609.1 842.9,605 847,604.5 846.4,611.5 848.7,617.3 847.5,622 845.2,623.8 841.7,620.9 837.6,618.5 834.1,618.5 830.5,619.7 827,621.4 826.4,615ZM852.2,634.9 857.5,633.2 861,635.5 861.6,638.4 858.7,642.5 856.9,646.6 857.5,649.6 852.8,650.7 848.1,651.3 845.8,652.5 842.9,657.2 841.1,658.4 837.6,654.3 836.4,650.2 839.3,646.6 844,649.6 847.5,646.1 853.4,643.1 854,639.6Z" fill="#cf1f28" stroke="#fff" stroke-width="0.5" stroke-linejoin="round"/>
<path d="M206.2,338.8 218.8,338.8 219.5,345.5 205,345.5ZM266.2,338.8 277.5,338.8 277.5,345.5 264.5,345.5Z" fill="#cf1f28"/>
<path d="M422.2,527.5 423.5,540 413.5,543.8 421,547.5 434.8,548M416,565 436,566.2 436,571.2M419.8,577.5 433.5,578.8M269.5,679.8 315.5,687.2M151.1,548.9 159.7,549.7M155,585.6 169.1,588.8M868.6,503.1 865.4,518.8 851.4,523.4M865.4,518.8 864.7,531.2 851.4,529.7M865.4,518.8 876.4,509.4 888.9,525M917,453.9 921.7,468.8M908.4,456.2 910.8,468.8 907.6,482.8M813.4,750 818.1,759.4 827.5,765.6 830.6,778.1M808.8,771.9 816.6,773.4 824.4,782.8M290.3,507.8 312.2,510.2 315.3,515.6 323.9,518.8M285.6,529.7 311.4,534.4 314.5,525 323.1,525M320.8,493 322.3,503.1 329.1,501.6M170.9,394.1 180,395.2 182.3,393.1 184.7,394.4 185.5,399.1 194.4,404.5" fill="none" stroke="#fff" stroke-opacity="0.75" stroke-width="0.7"/>
<!-- corner decoration -->
<polygon points="1024,785.5 914.5,895 978.5,959.5 1024,914" fill="#1c4786"/>
<polygon points="914.5,895 978.5,959.5 914,1024 785.5,1024" fill="#2ea5de"/>
<polygon points="978.5,959.5 1024,914 1024,1024 914,1024" fill="#0d69b1"/>
<polygon points="978.5,959.5 1024,914 1024,1005" fill="#0563b2"/>
</svg>

<svg class="title" viewBox="0 0 1024 240">
<defs><filter id="bl" x="-5%" y="-20%" width="110%" height="140%"><feGaussianBlur stdDeviation="0.8"/></filter></defs>
<g class="sh" transform="translate(1.6,1.8)" filter="url(#bl)">
<text x="122.9" y="89.4" textLength="231.1" lengthAdjust="spacingAndGlyphs">Exploring</text>
<text x="366.9" y="89.4" textLength="201.1" lengthAdjust="spacingAndGlyphs">Housing</text>
<text x="583.0" y="89.4" textLength="321.6" lengthAdjust="spacingAndGlyphs">Affordability:</text>
<text x="129.0" y="144.6" textLength="161.0" lengthAdjust="spacingAndGlyphs">Where</text>
<text x="305.0" y="144.6" textLength="234.0" lengthAdjust="spacingAndGlyphs">Mortgage</text>
<text x="553.0" y="144.6" textLength="241.5" lengthAdjust="spacingAndGlyphs">Payments</text>
<text x="808.5" y="144.6" textLength="88.5" lengthAdjust="spacingAndGlyphs">Are</text>
<text x="92.0" y="199.6" textLength="206.0" lengthAdjust="spacingAndGlyphs">Cheaper</text>
<text x="313.0" y="199.6" textLength="124.5" lengthAdjust="spacingAndGlyphs">Than</text>
<text x="449.4" y="199.6" textLength="105.0" lengthAdjust="spacingAndGlyphs">Rent</text>
<text x="569.5" y="199.6" textLength="165.0" lengthAdjust="spacingAndGlyphs">Across</text>
<text x="749.0" y="199.6" textLength="74.5" lengthAdjust="spacingAndGlyphs">the</text>
<text x="839.9" y="199.6" textLength="93.7" lengthAdjust="spacingAndGlyphs">U.S.</text>
</g>
<g>
<text x="122.9" y="89.4" textLength="231.1" lengthAdjust="spacingAndGlyphs">Exploring</text>
<text x="366.9" y="89.4" textLength="201.1" lengthAdjust="spacingAndGlyphs">Housing</text>
<text x="583.0" y="89.4" textLength="321.6" lengthAdjust="spacingAndGlyphs">Affordability:</text>
<text x="129.0" y="144.6" textLength="161.0" lengthAdjust="spacingAndGlyphs">Where</text>
<text x="305.0" y="144.6" textLength="234.0" lengthAdjust="spacingAndGlyphs">Mortgage</text>
<text x="553.0" y="144.6" textLength="241.5" lengthAdjust="spacingAndGlyphs">Payments</text>
<text x="808.5" y="144.6" textLength="88.5" lengthAdjust="spacingAndGlyphs">Are</text>
<text x="92.0" y="199.6" textLength="206.0" lengthAdjust="spacingAndGlyphs">Cheaper</text>
<text x="313.0" y="199.6" textLength="124.5" lengthAdjust="spacingAndGlyphs">Than</text>
<text x="449.4" y="199.6" textLength="105.0" lengthAdjust="spacingAndGlyphs">Rent</text>
<text x="569.5" y="199.6" textLength="165.0" lengthAdjust="spacingAndGlyphs">Across</text>
<text x="749.0" y="199.6" textLength="74.5" lengthAdjust="spacingAndGlyphs">the</text>
<text x="839.9" y="199.6" textLength="93.7" lengthAdjust="spacingAndGlyphs">U.S.</text>
</g>
</svg>

<div class="search"></div>
<svg class="abs ov" style="left:0;top:0" width="1024" height="1024" viewBox="0 0 1024 1024">
<!-- legend -->
<rect x="347.8" y="265.7" width="19.5" height="19.6" rx="4.2" fill="#cf1f28"/>
<text x="377.1" y="282" font-size="15.4" fill="#555" textLength="136.7" lengthAdjust="spacingAndGlyphs">Mortgage &gt; Rent</text>
<rect x="522.3" y="265.7" width="19.8" height="19.6" rx="4.2" fill="#056cbc"/>
<text x="552" y="282" font-size="15.4" fill="#555" textLength="136.7" lengthAdjust="spacingAndGlyphs">Mortgage &lt; Rent</text>
<!-- search -->
<circle cx="44.4" cy="326" r="4.1" fill="none" stroke="#222" stroke-width="2.1"/>
<path d="M47.6 329.3 L51.2 332.9" stroke="#222" stroke-width="2.6" stroke-linecap="round"/>
<text x="63.4" y="333.7" font-size="20" fill="#757575" textLength="236.4" lengthAdjust="spacingAndGlyphs">Search by Metro Area...</text>
<!-- no-data -->
<rect x="24.4" y="875.2" width="20.3" height="19.8" fill="#e7e7e7"/>
<polygon points="24.4,875.2 44.7,875.2 24.4,895" fill="#d9d9d9"/>
<text x="52.6" y="893" font-size="17.8" font-style="italic" fill="#555" textLength="206.7" lengthAdjust="spacingAndGlyphs">= Data is not available</text>
<!-- logo -->
<rect x="34.3" y="939" width="43.4" height="48.6" fill="#1670b9"/>
<rect x="40.1" y="945.1" width="13.2" height="36" fill="#fff"/>
<path d="M56.7 945.1 H62.2 A9.05 9.05 0 0 1 62.2 963.2 H56.7 Z" fill="#fff"/>
<polygon points="57.2,964.6 57.2,981.1 73.4,981.1" fill="#fff"/>
<g font-weight="bold" font-size="15.9">
<text x="89.5" y="951" fill="#0a0a0a" textLength="85.7" lengthAdjust="spacingAndGlyphs">NATIONAL</text>
<text x="89.5" y="969" fill="#0a0a0a" textLength="147.9" lengthAdjust="spacingAndGlyphs">ASSOCIATION OF</text>
<text x="89.5" y="987.1" fill="#1670b9" textLength="88.2" lengthAdjust="spacingAndGlyphs">REALTORS</text>
<text x="178.2" y="980.5" fill="#1670b9" font-size="9.5">®</text>
</g>
</svg>
</body>
</html>
